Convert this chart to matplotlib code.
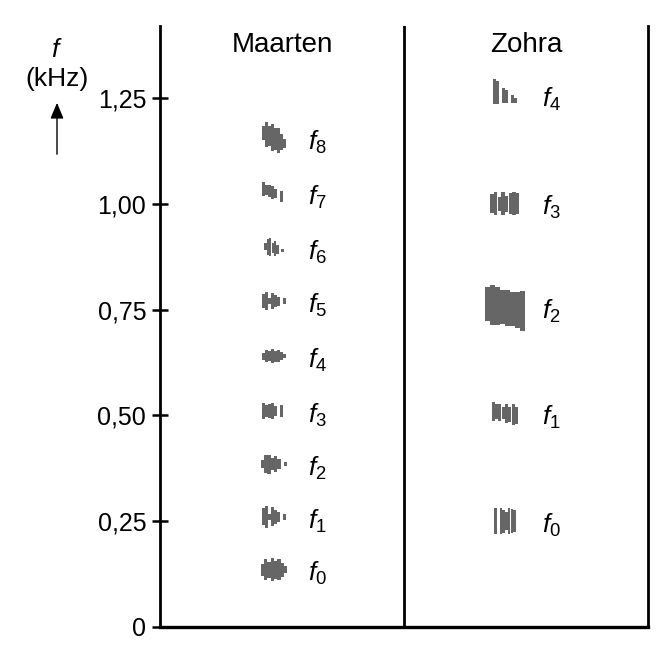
import matplotlib
matplotlib.use("Agg")
import matplotlib.pyplot as plt
import numpy as np

plt.rcParams['font.family'] = ['Liberation Sans', 'DejaVu Sans']
plt.rcParams['mathtext.fontset'] = 'custom'
plt.rcParams['mathtext.rm'] = 'Liberation Sans'
plt.rcParams['mathtext.it'] = 'Liberation Sans:italic'

# ---- data ----
speakers = ["Maarten", "Zohra"]
maarten_freqs = [0.135, 0.26, 0.385, 0.51, 0.64, 0.77, 0.895, 1.025, 1.155]   # kHz, f0..f8
zohra_freqs = [0.25, 0.505, 0.755, 1.0, 1.255]                                   # kHz, f0..f4
maarten_labels = [f"$f_{{{i}}}$" for i in range(len(maarten_freqs))]
zohra_labels = [f"$f_{{{i}}}$" for i in range(len(zohra_freqs))]
ytick_values = [0, 0.25, 0.50, 0.75, 1.00, 1.25]
ytick_labels = ["0", "0,25", "0,50", "0,75", "1,00", "1,25"]

# blob sizes (width in x-units, height in kHz) and tilt (kHz drop across blob)
maarten_w = [0.11, 0.10, 0.11, 0.10, 0.10, 0.10, 0.08, 0.10, 0.10]
maarten_h = [0.055, 0.05, 0.045, 0.042, 0.032, 0.042, 0.042, 0.036, 0.065]
maarten_tilt = [0.0, 0.0, 0.0, 0.0, 0.0, 0.0, 0.01, 0.02, 0.025]
zohra_w = [0.09, 0.11, 0.165, 0.12, 0.10]
zohra_h = [0.06, 0.05, 0.095, 0.055, 0.06]
zohra_tilt = [0.0, 0.01, 0.015, 0.0, 0.02]

# striation profiles (relative column heights) used to shape the blobs
profiles_m = [
    [0.5, 0.9, 0.7, 1.0, 0.8, 0.9, 0.6, 0.3],
    [0.8, 1.0, 0.3, 0.9, 0.7, 0.5, 0.0, 0.3],
    [0.4, 0.9, 1.0, 0.6, 0.8, 0.5, 0.0, 0.2],
    [0.9, 0.7, 0.8, 0.9, 0.6, 0.0, 0.7, 0.0],
]
profiles_z = [
    [1.0, 0.0, 1.0, 0.9, 0.7, 1.0, 0.95, 0.85],
    [0.9, 0.7, 0.8, 0.6, 0.9, 0.7, 1.0, 0.8],
    [0.85, 1.0, 0.95, 0.85, 0.9, 0.85, 0.9, 1.0],
    [0.8, 1.0, 0.6, 1.0, 0.7, 0.9, 1.0, 0.9],
    [1.0, 0.9, 0.0, 0.6, 0.5, 0.0, 0.3, 0.2],
]

fig = plt.figure(figsize=(6.71, 6.67), dpi=100)
ax = fig.add_axes([0.2385, 0.06, 0.727, 0.901])
ax.set_xlim(0, 2)
ax.set_ylim(0, 1.42)

grey = '#666666'

def draw_blob(xc, yc, w, h, prof, tilt, gap=0.15):
    n = len(prof)
    cw = w / n
    xs = xc - w / 2 + cw * (np.arange(n) + 0.5)
    hs = np.array(prof) * h
    centers = yc + tilt / 2 - tilt * np.arange(n) / (n - 1)
    ax.bar(xs, hs, width=cw * (1 - gap), bottom=centers - hs / 2, color=grey, edgecolor='none')

label_fs = 19
for i, (y, lab) in enumerate(zip(maarten_freqs, maarten_labels)):
    draw_blob(0.467, y, maarten_w[i], maarten_h[i], profiles_m[i % 4], maarten_tilt[i], gap=0.05)
    ax.text(0.605, y - 0.027, lab, fontsize=label_fs, ha='left', va='baseline')

for i, (y, lab) in enumerate(zip(zohra_freqs, zohra_labels)):
    draw_blob(1.414, y, zohra_w[i], zohra_h[i], profiles_z[i], zohra_tilt[i],
              gap=0.0 if i == 2 else 0.1)
    ax.text(1.566, y - 0.027, lab, fontsize=label_fs, ha='left', va='baseline')

# speaker titles
ax.text(0.5, 1.375, speakers[0], fontsize=20, ha='center', va='center')
ax.text(1.5, 1.375, speakers[1], fontsize=20, ha='center', va='center')

# middle divider
ax.axvline(1, color='black', lw=2.0)

# spines
for s in ['left', 'right', 'bottom']:
    ax.spines[s].set_linewidth(2.0)
ax.spines['bottom'].set_linewidth(2.4)
ax.spines['top'].set_visible(False)

ax.set_xticks([])
ax.set_yticks(ytick_values)
ax.set_yticklabels(ytick_labels, fontsize=18)
ax.tick_params(axis='y', direction='inout', length=12, width=1.8, pad=4)

# y-axis label with arrow
fig.text(57 / 671, 1 - 50 / 667, "$f$", fontsize=19, ha='center', va='center')
fig.text(57 / 671, 1 - 79 / 667, "(kHz)", fontsize=19, ha='center', va='center')
fig.add_artist(matplotlib.patches.FancyArrowPatch(
    (57 / 671, 1 - 157 / 667), (57 / 671, 1 - 100 / 667),
    transform=fig.transFigure, arrowstyle='-|>,head_length=0.6,head_width=0.25',
    mutation_scale=16, lw=1.0, color='black'))

fig.savefig("out.png", dpi=100)
